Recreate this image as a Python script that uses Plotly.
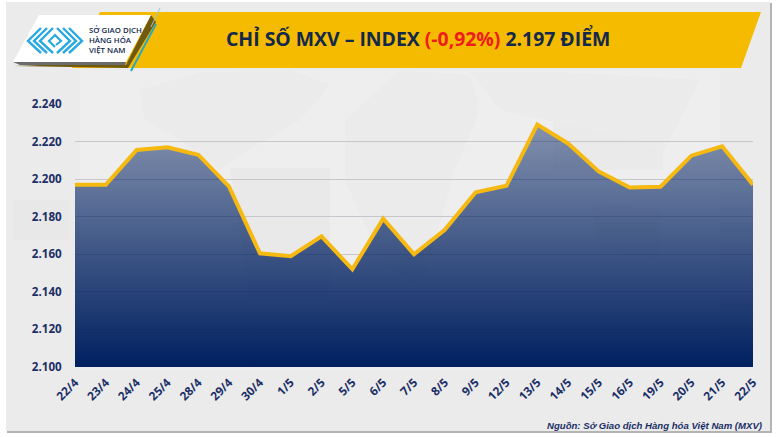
import plotly.graph_objects as go

dates = ["22/4","23/4","24/4","25/4","28/4","29/4","30/4","1/5","2/5","5/5","6/5","7/5",
         "8/5","9/5","12/5","13/5","14/5","15/5","16/5","19/5","20/5","21/5","22/5"]
index_values = [2197,2197,2215.5,2217,2213,2196,2160.5,2159,2169.5,2152,2179,2160,
                2173,2193,2196.5,2229,2219,2204,2195.5,2196,2212.5,2217.5,2197]
y_ticks = [2100,2120,2140,2160,2180,2200,2220,2240]
y_labels = ["2.100","2.120","2.140","2.160","2.180","2.200","2.220","2.240"]

W, H = 777, 437
L, R, T, B = 75, 753, 104, 367
NAVY = "#1b2f66"

def X(x): return (x - L) / (R - L)
def Y(y): return (B - y) / (B - T)
def path(pts, close=True):
    s = "M " + " L ".join(f"{X(a):.5f},{Y(b):.5f}" for a, b in pts)
    return s + (" Z" if close else "")
def poly(pts, fill, layer="below"):
    return dict(type="path", xref="paper", yref="paper", path=path(pts), fillcolor=fill,
                line=dict(width=0), layer=layer)
def stroke(pts, color, width, layer="below"):
    return dict(type="path", xref="paper", yref="paper", path=path(pts, False),
                line=dict(color=color, width=width), layer=layer)

shapes = [
    poly([(7,3),(772,3),(772,433),(7,433)], "#b4b4b4"),
    poly([(6,2),(770,2),(770,431),(6,431)], "#ebebeb"),
    poly([(80,70),(720,70),(720,370),(80,370)], "#eeeeee"),
    # faint world map
    poly([(140,90),(200,72),(290,70),(330,85),(300,120),(250,150),(220,170),(180,140),(145,120)], "#ebebeb"),
    poly([(230,168),(330,168),(330,300),(250,300)], "#e9e9ea"),
    poly([(345,120),(400,70),(470,75),(480,110),(455,170),(420,290),(380,260),(345,180)], "#ebebeb"),
    poly([(553,86),(663,86),(663,170),(553,170)], "#eaeaea"),
    poly([(470,72),(560,72),(700,80),(665,150),(590,130),(500,110)], "#ebebeb"),
    poly([(590,200),(660,210),(660,260),(600,250)], "#eaeaea"),
    poly([(14,200),(70,200),(70,240),(14,240)], "#e8e8e8"),
    # banner
    poly([(100,12),(761,12),(741,68),(72,68)], "#f5bb00"),
]

shapes_top = [
    poly([(156,22),(151,15),(126,65),(40,65),(14,66),(128,68)], "#6f5a10", "above"),
    poly([(39,15),(151,15),(126,62),(13,62)], "#ffffff", "above"),
    poly([(13,62),(126,62),(125,65),(20,65)], "#6b6b6b", "above"),
    stroke([(156,24),(131,71)], "#2aa9bd", 2, "above"),
    stroke([(160,8),(151,27)], "#9cc7cc", 1, "above"),
]
# logo chevrons
BLUE = "#2aa8e0"
for dx in (0, 6, 12):
    shapes_top.append(stroke([(41+dx,28),(28+dx,41),(41+dx,53)], BLUE, 2.4, "above"))
    shapes_top.append(stroke([(69-dx,28),(82-dx,41),(69-dx,53)], BLUE, 2.4, "above"))
shapes_top.append(stroke([(55,47),(49,41),(55,35),(61,41),(56,45)], BLUE, 2.2, "above"))

annotations = [
    dict(x=X(418.5), y=Y(38.5), xref="paper", yref="paper", showarrow=False, xanchor="center", yanchor="middle",
         text='CHỈ SỐ MXV – INDEX <span style="color:#ee1c1c">(-0,92%)</span> 2.197 ĐIỂM',
         font=dict(family="Open Sans", size=19.4, color="#12284c", weight=700)),
    dict(x=X(87), y=Y(40), xref="paper", yref="paper", showarrow=False, xanchor="left", yanchor="middle", align="left",
         text="SỞ GIAO DỊCH<br>HÀNG HÓA<br>VIỆT NAM",
         font=dict(family="Open Sans", size=7.8, color="#12284c", weight=600)),
    dict(x=X(764), y=Y(425.5), xref="paper", yref="paper", showarrow=False, xanchor="right", yanchor="middle",
         text="<b><i>Nguồn: Sở Giao dịch Hàng hóa Việt Nam (MXV)</i></b>",
         font=dict(family="Liberation Sans", size=9.6, color=NAVY)),
]

fig = go.Figure(go.Scatter(
    x=dates, y=index_values, mode="lines", line=dict(color="#f5b912", width=4),
    fill="tozeroy", fillcolor="rgba(0,32,96,0.7)",
    fillgradient=dict(type="vertical", colorscale=[[0,"rgba(0,32,96,1)"],[1,"rgba(0,32,96,0.45)"]],
                      start=2100, stop=2229),
    hoverinfo="skip"))

fig.update_layout(
    width=W, height=H, margin=dict(l=L, r=W-R, t=T, b=H-B, autoexpand=False),
    paper_bgcolor="#ffffff", plot_bgcolor="rgba(0,0,0,0)", showlegend=False,
    shapes=shapes + shapes_top, annotations=annotations,
    xaxis=dict(type="category", range=[0,22], tickangle=-45, showgrid=False, zeroline=False, showline=False,
               ticks="outside", ticklen=3, tickcolor="rgba(0,0,0,0)",
               tickfont=dict(family="Open Sans", size=11.8, color=NAVY, weight=700)),
    yaxis=dict(range=[2100,2240], tickvals=y_ticks, ticktext=y_labels, gridcolor="#c6c7cc", gridwidth=1,
               zeroline=False, showline=False, ticks="outside", ticklen=10, tickcolor="rgba(0,0,0,0)",
               tickfont=dict(family="Open Sans", size=11.6, color=NAVY, weight=700)),
)
fig.write_html("out.html", config=dict(displayModeBar=False),
               post_script="document.body.style.margin='0';document.documentElement.style.overflow='hidden';")
